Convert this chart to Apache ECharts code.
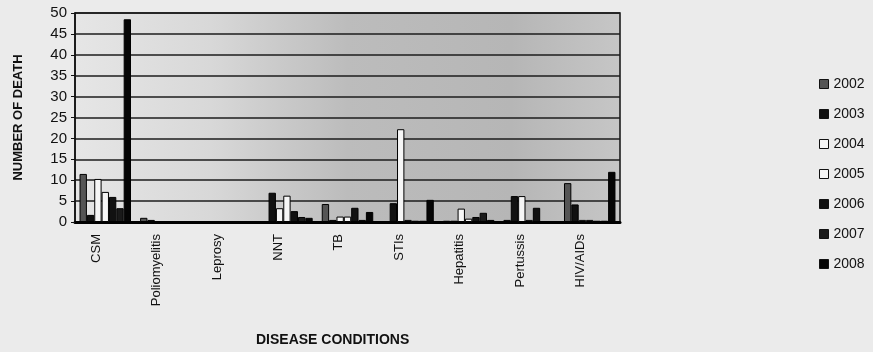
<!DOCTYPE html>
<html>
<head>
<meta charset="utf-8">
<script src="https://cdn.jsdelivr.net/npm/echarts@6/dist/echarts.min.js"></script>
<style>
  html, body { margin: 0; padding: 0; background: #ebebeb; }
  #chart { width: 873px; height: 352px; }
</style>
</head>
<body>
<div id="chart"></div>
<script>
// Disease categories on the x axis
const diseases = ['CSM', 'Poliomyelitis', 'Leprosy', 'NNT', 'TB', 'STIs', 'Hepatitis', 'Pertussis', 'HIV/AIDs'];

// Number of deaths per year
const years = ['2002', '2003', '2004', '2005', '2006', '2007', '2008'];
const deaths2002 = [11.5, 1, 0, 0, 4.3, 0, 0.3, 0.5, 9.3];
const deaths2003 = [1.7, 0.5, 0, 7, 0.5, 4.5, 0.3, 6.2, 4.2];
const deaths2004 = [10.3, 0, 0, 3.3, 1.3, 22.2, 3.2, 6.2, 0.5];
const deaths2005 = [7.2, 0, 0, 6.3, 1.3, 0.5, 0.8, 0.5, 0.5];
const deaths2006 = [6, 0, 0, 2.6, 3.4, 0.3, 1.2, 3.4, 0.3];
const deaths2007 = [3.3, 0, 0, 1.2, 0.5, 0.3, 2.2, 0, 0.3];
const deaths2008 = [48.5, 0, 0, 1, 2.4, 5.3, 0.5, 0, 12];

const yTicks = { min: 0, max: 50, interval: 5 };

const seriesData = [deaths2002, deaths2003, deaths2004, deaths2005, deaths2006, deaths2007, deaths2008];
const fills = ['#555555', '#111111', '#f6f6f6', '#f6f6f6', '#111111', '#1a1a1a', '#050505'];

const chart = echarts.init(document.getElementById('chart'));

let option = {
    backgroundColor: '#ebebeb',
    textStyle: { fontFamily: 'Liberation Sans, Arial, sans-serif', color: '#111' },
    grid: [
        {
            left: 75, right: 253, top: 13, bottom: 130,
            show: true,
            borderColor: '#111',
            borderWidth: 1.5,
            backgroundColor: new echarts.graphic.LinearGradient(0, 0, 1, 0, [
                { offset: 0, color: '#e6e6e6' },
                { offset: 0.25, color: '#d8d8d8' },
                { offset: 0.5, color: '#bcbcbc' },
                { offset: 0.8, color: '#b6b6b6' },
                { offset: 1, color: '#c6c6c6' }
            ])
        },
        // label-only grid, shifted left like the scan's 3D front edge
        { left: 66, right: 262, top: 13, bottom: 130 }
    ],
    legend: {
        orient: 'vertical',
        left: 814,
        top: 72,
        itemWidth: 9,
        itemHeight: 9,
        itemGap: 16,
        icon: 'rect',
        data: years,
        textStyle: { fontSize: 14, color: '#111', lineHeight: 14 },
        itemStyle: { borderColor: '#111', borderWidth: 1 }
    },
    xAxis: [
        {
            type: 'category',
            gridIndex: 0,
            data: diseases,
            axisLine: { show: true, lineStyle: { color: '#000', width: 3 } },
            axisTick: { show: false },
            axisLabel: { show: false }
        },
        {
            type: 'category',
            gridIndex: 1,
            data: diseases,
            axisLine: { show: false },
            axisTick: { show: false },
            axisLabel: { rotate: 90, margin: 12, fontSize: 13, color: '#111' }
        }
    ],
    yAxis: [
        {
            type: 'value',
            gridIndex: 0,
            min: yTicks.min,
            max: yTicks.max,
            interval: yTicks.interval,
            name: 'NUMBER OF DEATH',
            nameLocation: 'middle',
            nameGap: 50,
            nameTextStyle: { fontSize: 13, fontWeight: 'bold', color: '#111' },
            axisLine: { show: true, lineStyle: { color: '#111', width: 1.5 } },
            axisTick: { show: true, length: 4, lineStyle: { color: '#111' } },
            axisLabel: { fontSize: 15, color: '#111', margin: 8 },
            splitLine: { show: true, lineStyle: { color: '#1c1c1c', width: 1.5 } }
        },
        {
            type: 'value',
            gridIndex: 1,
            min: yTicks.min,
            max: yTicks.max,
            show: false
        }
    ],
    graphic: [
        {
            type: 'text',
            left: 256,
            top: 333,
            style: {
                text: 'DISEASE CONDITIONS',
                font: 'bold 14px "Liberation Sans", Arial, sans-serif',
                fill: '#111'
            }
        }
    ],
    series: years.map(function (year, i) {
        return {
            name: year,
            type: 'bar',
            xAxisIndex: 0,
            yAxisIndex: 0,
            data: seriesData[i],
            barGap: '0%',
            barCategoryGap: '15%',
            itemStyle: { color: fills[i], borderColor: '#000', borderWidth: 1 }
        };
    })
};
chart.setOption(option);
</script>
</body>
</html>
